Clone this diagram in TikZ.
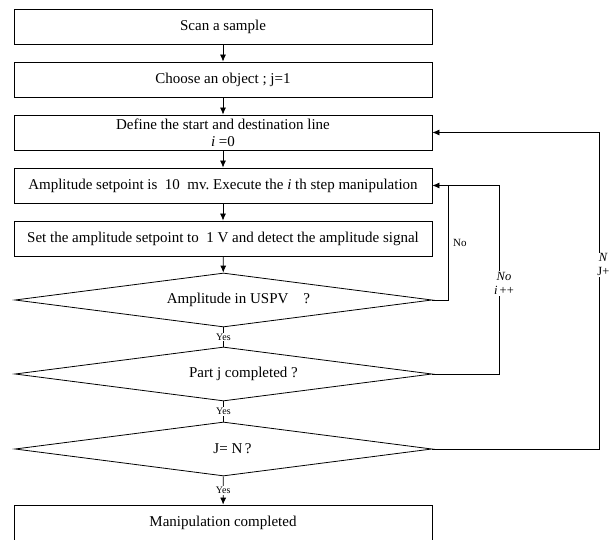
\documentclass[tikz,border=0pt]{standalone}
\usepackage{fontspec}
\setmainfont{Liberation Serif}
\usetikzlibrary{shapes.geometric,arrows.meta}
\newcommand\myfs{\fontsize{15}{17}\selectfont}
\newcommand\mysmallfs{\fontsize{10}{12}\selectfont}
\newcommand\mylblfs{\fontsize{12.5}{14}\selectfont}
\begin{document}
\begin{tikzpicture}[x=1pt,y=-1pt,
  box/.style={draw, line width=0.8pt, minimum width=418pt, minimum height=35pt, inner sep=0pt, font=\myfs},
  dec/.style={draw, diamond, line width=0.8pt, minimum width=417pt, minimum height=54pt, inner sep=0pt, aspect=7.7, font=\myfs},
  ln/.style={line width=0.8pt},
  arr/.style={line width=0.8pt, -{Latex[length=7pt,width=6pt]}},
  yes/.style={fill=white, inner sep=1pt, font=\mysmallfs},
  lbl/.style={inner sep=1pt, font=\mylblfs, align=center}]
\useasboundingbox (0,0) rectangle (613,540);
\clip (0,0) rectangle (613,539.3);
\node[box] (b1) at (223,26.5) {Scan a sample};
\node[box] (b2) at (223,79.5) {Choose an object ; j=1};
\node[box, align=center] (b3) at (223,132.5) {Define the start and destination line\\\textit{i} =0};
\node[box] (b4) at (223,185.5) {Amplitude setpoint is\ \ 10\ \ mv.\ Execute the \textit{i} th step manipulation};
\node[box] (b5) at (223,238.5) {Set the amplitude setpoint to\ \ 1 V and detect the amplitude signal};
\node[dec] (d1) at (223.5,300) {\hspace*{30pt}Amplitude in USPV\quad ?};
\node[dec] (d2) at (223.5,374) {\hspace*{40pt}Part j completed\ ?};
\node[dec] (d3) at (223.5,449) {\hspace*{18pt}J= N\,?};
\node[box] (b6) at (223,522.5) {Manipulation completed};
\coordinate (c1) at (448,300);
\coordinate (c2) at (499,374);
\coordinate (c3) at (599,449);
\draw[arr] (b1) -- (b2);
\draw[arr] (b2) -- (b3);
\draw[arr] (b3) -- (b4);
\draw[arr] (b4) -- (b5);
\draw[arr] (b5) -- (d1);
\draw[ln] (d1) -- node[yes] {Yes} (d2);
\draw[ln] (d2) -- node[yes] {Yes} (d3);
\draw[arr] (d3) -- node[yes] {Yes} (b6);
\draw[ln] (d1.east) -- (c1) -- (c1 |- b4.east);
\draw[arr] (d2.east) -- (c2) |- node[pos=0.24, lbl, fill=white, xshift=5pt] {\textit{No}\\\textit{i}\,++} (b4.east);
\draw[arr] (d3.east) -- (c3) |- node[pos=0.291, lbl, fill=white, anchor=west, xshift=-3pt] {\textit{N}\\J+} (b3.east);
\node[lbl, anchor=west] (no1) at (452,243) {\fontsize{11}{13}\selectfont No};
\end{tikzpicture}
\end{document}
